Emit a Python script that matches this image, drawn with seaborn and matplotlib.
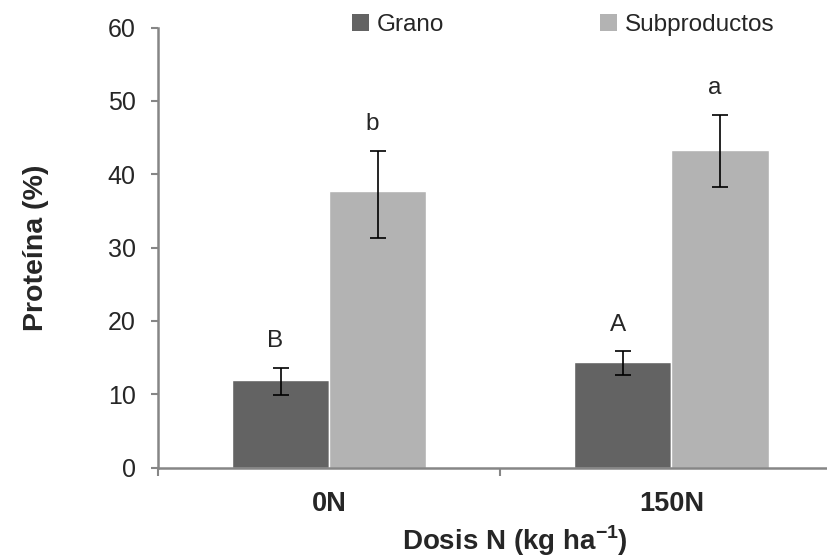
import numpy as np
import pandas as pd
import matplotlib
matplotlib.use("Agg")
import matplotlib.pyplot as plt
import seaborn as sns
from matplotlib.patches import Patch

# data
dosis = ["0N", "150N"]
grano = [11.9, 14.4]
grano_err_low = [1.95, 1.85]
grano_err_high = [1.7, 1.45]
subprod = [37.7, 43.3]
subprod_err_low = [6.4, 5.0]
subprod_err_high = [5.5, 4.8]
letras_grano = ["B", "A"]
letras_subprod = ["b", "a"]

df = pd.DataFrame({
    "dosis": dosis * 2,
    "proteina": grano + subprod,
    "tipo": ["Grano"] * 2 + ["Subproductos"] * 2,
})

sns.set_style("white")
plt.rcParams["font.family"] = ["Liberation Sans", "DejaVu Sans"]
plt.rcParams["mathtext.fontset"] = "custom"
plt.rcParams["mathtext.rm"] = "Liberation Sans"
plt.rcParams["mathtext.bf"] = "Liberation Sans:bold"

colores = {"Grano": "#636363", "Subproductos": "#b3b3b3"}

fig = plt.figure(figsize=(8.28, 5.58), dpi=100)
ax = fig.add_axes([158 / 828, 1 - 467.5 / 558, 684.5 / 828, 440 / 558])

sns.barplot(data=df, x="dosis", y="proteina", hue="tipo", palette=colores,
            width=0.568, saturation=1, errorbar=None, legend=False, ax=ax)

# error bars and significance letters
errs = [(grano_err_low, grano_err_high, letras_grano),
        (subprod_err_low, subprod_err_high, letras_subprod)]
for cont, (lo, hi, letras) in zip(ax.containers, errs):
    for bar, l, h, letra in zip(cont, lo, hi, letras):
        xc = bar.get_x() + bar.get_width() / 2
        yv = bar.get_height()
        ax.errorbar(xc, yv, yerr=[[l], [h]], fmt="none", ecolor="black",
                    elinewidth=1.2, capsize=5.5, capthick=1.2)
        ax.text(xc - 0.015, yv + h + 3.6, letra, ha="center", va="center",
                fontsize=17.5)

ax.set_xlim(-0.5, 1.5)
ax.set_ylim(0, 60)
ax.set_yticks(np.arange(0, 61, 10))
ax.tick_params(axis="y", labelsize=18, length=5, width=1.5, color="#868686",
               direction="out", pad=11, left=True)
ax.tick_params(axis="x", labelsize=19.5, length=0, pad=17)
for t in ax.get_xticklabels():
    t.set_fontweight("bold")
ax.set_xticks([-0.5, 0.5, 1.5], minor=True)
ax.tick_params(axis="x", which="minor", length=6, width=1.5, color="#868686",
               direction="out", bottom=True)

sns.despine(ax=ax)
for s in ["left", "bottom"]:
    ax.spines[s].set_color("#868686")
    ax.spines[s].set_linewidth(1.8)

ax.set_xlabel("Dosis N (kg ha$^{\\mathbf{-1}}$)", fontsize=20, fontweight="bold")
ax.set_ylabel("Proteína (%)", fontsize=20.5, fontweight="bold")
ax.xaxis.set_label_coords(0.522, -0.128)
ax.yaxis.set_label_coords(-0.159, 0.5)

handles = [Patch(facecolor=colores[k], edgecolor="none") for k in colores]
fig.legend(handles, list(colores), loc="center", ncol=2,
           bbox_to_anchor=(563 / 828, 1 - 25 / 558), frameon=False,
           fontsize=17.5, handlelength=0.72, handleheight=0.72,
           handletextpad=0.3, columnspacing=6.4)

fig.savefig("out.png", dpi=100)
